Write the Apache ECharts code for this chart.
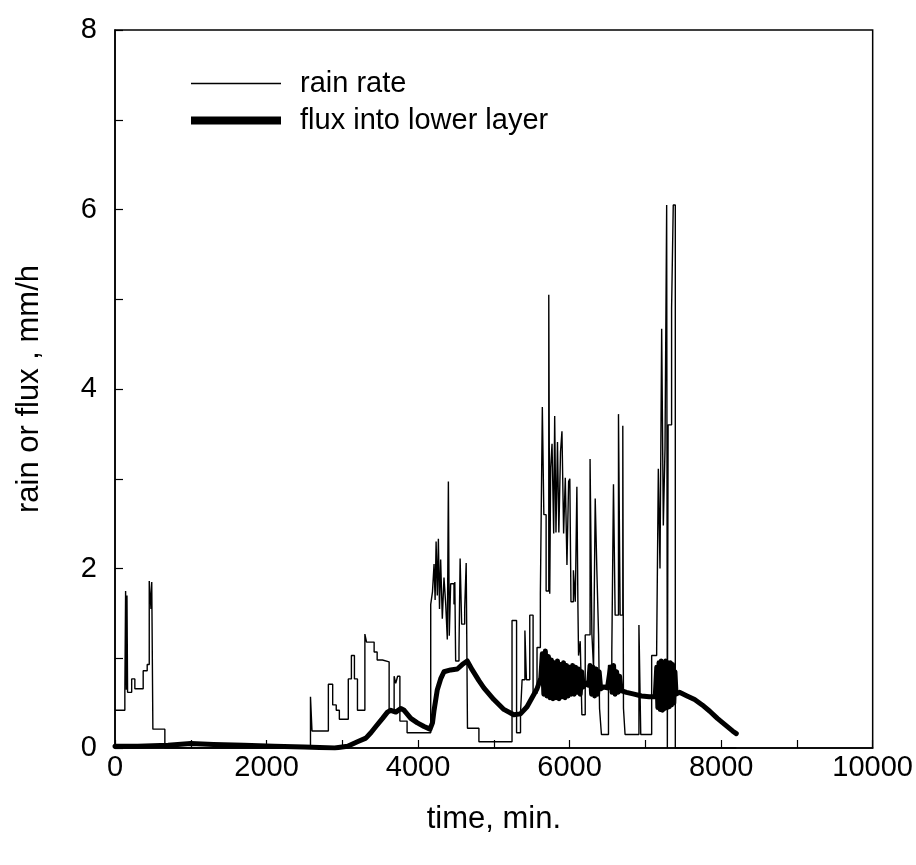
<!DOCTYPE html>
<html>
<head>
<meta charset="utf-8">
<script src="https://cdn.jsdelivr.net/npm/echarts@6/dist/echarts.min.js"></script>
<style>
html,body{margin:0;padding:0;background:#fff;}
#chart{width:916px;height:865px;}
</style>
</head>
<body>
<div id="chart"></div>
<script>
// ---- data ----
var rainTime = [0,130,140,150,158,166,220,262,372,425,452,475,485,500,658,
  2580,2600,2816,2873,2920,2961,3079,3120,3160,3200,3298,3320,3420,3460,3530,3618,3684,3705,3730,3760,3855,
  4167,4190,4211,4225,4238,4254,4268,4283,4298,4320,4342,4365,4386,4400,4412,4430,4474,4485,4496,4540,4555,4575,4615,4635,4652,4803,
  5240,5300,5352,5373,5410,5430,5474,5518,5570,5614,5640,5660,5690,5725,5738,5750,5768,5790,5803,5820,5840,5858,5880,5899,5921,5943,5965,5987,6003,6018,6050,6075,6096,6110,6118,6140,6162,6206,6270,6294,6316,6338,6360,6382,6395,6420,6513,6557,6579,6601,6645,6667,6702,6711,6732,6915,6939,7083,7149,7171,7193,7215,7237,7259,7281,7290,7300,7325,7346,7368,7395,8200];
var rainRate = [0.42,0.62,1.75,0.65,1.70,0.62,0.77,0.66,0.86,0.93,1.86,1.55,1.85,0.21,0,
  0.57,0.19,0.71,0.48,0.42,0.32,0.77,1.03,0.77,0.42,1.27,1.18,1.07,0.98,0.96,0.40,0.80,0.72,0.80,0.30,0.17,
  1.60,1.74,2.05,1.65,2.30,1.70,2.33,1.55,2.10,1.44,1.90,1.60,1.21,2.97,1.25,1.83,1.60,1.85,0.97,1.10,2.11,1.38,1.55,2.06,0.22,0.07,
  1.42,0.17,0.39,0.76,1.31,0.76,1.48,0.61,1.12,1.72,3.80,2.60,1.75,5.05,1.72,3.12,3.39,2.39,3.70,2.40,3.41,2.40,3.30,3.53,2.39,3.01,2.04,2.97,3.00,1.63,1.98,1.63,2.91,1.56,1.03,1.19,0.37,1.26,3.22,1.27,0.89,2.78,1.97,1.27,0.44,0.15,0.92,1.07,2.94,1.48,3.72,1.48,3.59,0.44,0.15,1.37,0.15,1.03,1.11,3.11,2.00,4.67,2.48,3.33,6.05,0,3.60,3.60,4.90,6.05,0,0];

var fluxTime = [0,300,700,1000,1300,1700,2100,2500,2900,3070,3200,3311,3377,3443,3531,3596,3640,3706,3772,3816,3904,3991,4079,4158,4190,4211,4254,4298,4342,4430,4518,4583,4649,4715,4803,4868,5000,5132,5263,5351,5438,5570,5620,
  5640,5660,5680,5700,5720,5740,5760,5780,5800,5820,5840,5860,5880,5900,5920,5940,5960,5980,6000,6020,6040,6060,6080,6100,6120,6140,6160,6180,
  6220,6250,6270,6290,6310,6330,6350,6370,6390,6410,6450,6500,
  6540,6560,6580,6600,6620,6640,6660,6680,6750,6850,6950,7050,7130,
  7150,7165,7180,7195,7210,7225,7240,7255,7270,7285,7300,7315,7330,7345,7360,7375,7390,7405,
  7450,7550,7650,7750,7850,7950,8050,8150,8200];
var fluxValue = [0.02,0.02,0.03,0.05,0.04,0.03,0.02,0.01,0.00,0.02,0.07,0.11,0.17,0.24,0.33,0.40,0.42,0.40,0.44,0.42,0.33,0.28,0.24,0.21,0.28,0.42,0.65,0.77,0.85,0.87,0.88,0.93,0.97,0.87,0.75,0.67,0.54,0.43,0.37,0.38,0.46,0.66,0.78,
  1.05,0.60,1.08,0.58,1.02,0.56,0.98,0.55,0.95,0.56,0.97,0.55,0.93,0.57,0.95,0.56,0.92,0.58,0.90,0.60,0.92,0.60,0.90,0.62,0.88,0.60,0.85,0.68,
  0.72,0.70,0.92,0.60,0.90,0.58,0.88,0.60,0.85,0.66,0.68,0.67,
  0.90,0.62,0.92,0.60,0.85,0.62,0.80,0.64,0.62,0.60,0.58,0.57,0.57,
  0.90,0.45,0.95,0.43,0.97,0.42,0.95,0.44,0.97,0.45,0.95,0.46,0.95,0.48,0.93,0.50,0.85,0.60,
  0.62,0.58,0.54,0.48,0.41,0.33,0.26,0.19,0.16];

var xTickLabels = ['0','2000','4000','6000','8000','10000'];
var yTickLabels = ['0','2','4','6','8'];
var seriesNames = ['rain rate','flux into lower layer'];
var xTitle = 'time, min.';
var yTitle = 'rain or flux , mm/h';

// ---- build ----
function zip(a,b){var r=[];for(var i=0;i<a.length;i++)r.push([a[i],b[i]]);return r;}
var FONT = '"Liberation Sans", Arial, Helvetica, sans-serif';

var chart = echarts.init(document.getElementById('chart'), null, {renderer:'canvas'});
chart.setOption({
  backgroundColor:'#ffffff',
  animation:false,
  grid:{left:115, right:39, top:30, bottom:117, show:true, borderColor:'#000', borderWidth:1.5, backgroundColor:'transparent'},
  legend:{
    orient:'vertical', left:186, top:64, itemWidth:90, itemHeight:16, itemGap:8,
    textStyle:{fontFamily:FONT, fontSize:29, color:'#000', padding:[0,0,0,14]},
    data:[
      {name:seriesNames[0], icon:'path://M0,7.3 L90,7.3 L90,8.7 L0,8.7 Z'},
      {name:seriesNames[1], icon:'path://M0,4 L90,4 L90,12 L0,12 Z'}
    ]
  },
  xAxis:{
    type:'value', min:0, max:10000, interval:1000,
    name:xTitle, nameLocation:'middle', nameGap:56,
    nameTextStyle:{fontFamily:FONT, fontSize:31, color:'#000'},
    axisLine:{show:true, onZero:false, lineStyle:{color:'#000', width:1.5}},
    axisTick:{show:true, inside:true, length:8, lineStyle:{color:'#000', width:1.2}},
    axisLabel:{fontFamily:FONT, fontSize:29, color:'#000', margin:5,
      formatter:function(v){var i=xTickLabels.indexOf(String(v));return i>=0?xTickLabels[i]:'';}},
    splitLine:{show:false}
  },
  yAxis:{
    type:'value', min:0, max:8, interval:1,
    name:yTitle, nameLocation:'middle', nameGap:70, nameRotate:90,
    nameTextStyle:{fontFamily:FONT, fontSize:31, color:'#000'},
    axisLine:{show:true, onZero:false, lineStyle:{color:'#000', width:1.5}},
    axisTick:{show:true, inside:true, length:8, lineStyle:{color:'#000', width:1.2}},
    axisLabel:{fontFamily:FONT, fontSize:29, color:'#000', margin:18,
      formatter:function(v){var i=yTickLabels.indexOf(String(v));return i>=0?yTickLabels[i]:'';}},
    splitLine:{show:false}
  },
  series:[
    {name:seriesNames[0], type:'line', step:'end', showSymbol:false, symbol:'none',
     data:zip(rainTime,rainRate), itemStyle:{color:'#000'},
     lineStyle:{color:'#000', width:1.4}, z:2},
    {name:seriesNames[1], type:'line', showSymbol:false, symbol:'none',
     data:zip(fluxTime,fluxValue), itemStyle:{color:'#000'},
     lineStyle:{color:'#000', width:5, cap:'round', join:'round'}, z:3}
  ]
});
</script>
</body>
</html>
